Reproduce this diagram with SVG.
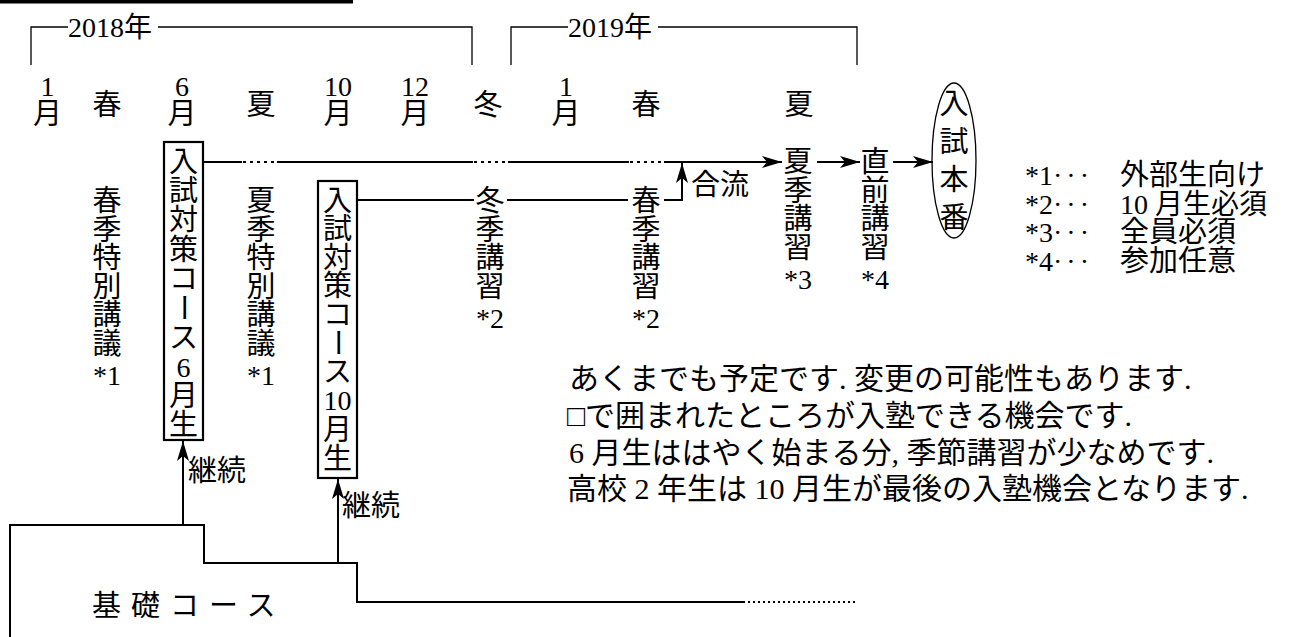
<svg xmlns="http://www.w3.org/2000/svg" width="1289" height="637" viewBox="0 0 1289 637">
<style>
.cj{font-family:"Noto Sans CJK JP",sans-serif;font-size:29px;fill:#000}
.sr{font-family:"Liberation Serif","Noto Sans CJK JP",serif;font-size:28px;fill:#000}
.mx{font-family:"Liberation Serif","Noto Sans CJK JP",serif;font-size:30px;fill:#000}
.c{text-anchor:middle}
.ln{fill:none;stroke:#000;stroke-width:2}
.br{fill:none;stroke:#000;stroke-width:1.3}
.dt{fill:none;stroke:#000;stroke-width:2;stroke-dasharray:3 4}
.box{fill:none;stroke:#000;stroke-width:2.2}
</style>
<defs>
<marker id="ah" viewBox="0 0 20 12" refX="20" refY="6" markerWidth="20" markerHeight="12" markerUnits="userSpaceOnUse" orient="auto">
<path d="M0,0 L20,6 L0,12 L5,6 Z" fill="#000"/>
</marker>
</defs>
<rect width="1289" height="637" fill="#fff"/>
<rect x="0" y="0" width="353" height="3.5" fill="#000"/>

<g id="timeline-header">
<path class="br" d="M31,65 V27 H68"/>
<text class="sr" x="68" y="37">2018年</text>
<path class="br" d="M158,27 H472 V65"/>
<path class="br" d="M511,65 V27 H568"/>
<text class="sr" x="568" y="37">2019年</text>
<path class="br" d="M658,27 H857 V65"/>
<text class="sr c" x="47.5" y="96">1</text><text class="cj c" x="47.5" y="123.5">月</text>
<text class="cj c" x="107" y="114.5">春</text>
<text class="sr c" x="182" y="96">6</text><text class="cj c" x="182" y="123.5">月</text>
<text class="cj c" x="261" y="114.5">夏</text>
<text class="sr c" x="338" y="96">10</text><text class="cj c" x="338" y="123.5">月</text>
<text class="sr c" x="415" y="96">12</text><text class="cj c" x="415" y="123.5">月</text>
<text class="cj c" x="488" y="114.5">冬</text>
<text class="sr c" x="566" y="96">1</text><text class="cj c" x="566" y="123.5">月</text>
<text class="cj c" x="646" y="114.5">春</text>
<text class="cj c" x="799" y="114.5">夏</text>
</g>

<g id="connectors">
<path class="ln" d="M203,162 H242 M277,162 H473 M508,162 H629 M664,162 H782" marker-end="url(#ah)"/>
<path class="dt" d="M243,162 H277 M474,162 H508 M630,162 H664"/>
<path class="ln" d="M357,200 H474 M507,200 H628 M664,200 H682 V163" marker-end="url(#ah)"/>
<path class="ln" d="M817,162 H860" marker-end="url(#ah)"/>
<path class="ln" d="M893,162 H933" marker-end="url(#ah)"/>
<path class="ln" d="M10,637 V525 H204 V563 H357 V602 H743"/>
<path class="ln" d="M743,602 H857" stroke-dasharray="2 3" stroke-width="1.6"/>
<path class="ln" d="M183,525 V441" marker-end="url(#ah)"/>
<path class="ln" d="M338,563 V479" marker-end="url(#ah)"/>
</g>

<g id="spring-special">
<text class="cj c" x="107" y="211">春</text>
<text class="cj c" x="107" y="239.5">季</text>
<text class="cj c" x="107" y="268">特</text>
<text class="cj c" x="107" y="296.5">別</text>
<text class="cj c" x="107" y="325">講</text>
<text class="cj c" x="107" y="353.5">議</text>
<text class="sr c" x="107" y="384.5">*1</text>
</g>

<g id="course-june">
<rect class="box" x="164" y="142" width="39" height="298"/>
<text class="cj c" x="183.5" y="171.5">入</text>
<text class="cj c" x="183.5" y="201">試</text>
<text class="cj c" x="183.5" y="230">対</text>
<text class="cj c" x="183.5" y="259.5">策</text>
<text class="cj c" x="183.5" y="288.5">コ</text>
<text class="cj c" x="183.5" y="318" transform="rotate(90 183.5 307.5)">ー</text>
<text class="cj c" x="183.5" y="347.5">ス</text>
<text class="sr c" x="183.5" y="377">6</text>
<text class="cj c" x="183.5" y="406">月</text>
<text class="cj c" x="183.5" y="435">生</text>
</g>

<g id="summer-special">
<text class="cj c" x="261" y="211">夏</text>
<text class="cj c" x="261" y="239.5">季</text>
<text class="cj c" x="261" y="268">特</text>
<text class="cj c" x="261" y="296.5">別</text>
<text class="cj c" x="261" y="325">講</text>
<text class="cj c" x="261" y="353.5">議</text>
<text class="sr c" x="261" y="384.5">*1</text>
</g>

<g id="course-october">
<rect class="box" x="318" y="181" width="39" height="297"/>
<text class="cj c" x="337.5" y="210.5">入</text>
<text class="cj c" x="337.5" y="239">試</text>
<text class="cj c" x="337.5" y="267.5">対</text>
<text class="cj c" x="337.5" y="296">策</text>
<text class="cj c" x="337.5" y="325">コ</text>
<text class="cj c" x="337.5" y="353.5" transform="rotate(90 337.5 342.5)">ー</text>
<text class="cj c" x="337.5" y="382">ス</text>
<text class="sr c" x="337.5" y="410">10</text>
<text class="cj c" x="337.5" y="440">月</text>
<text class="cj c" x="337.5" y="469">生</text>
</g>

<g id="winter-course">
<text class="cj c" x="490" y="211">冬</text>
<text class="cj c" x="490" y="239.5">季</text>
<text class="cj c" x="490" y="268">講</text>
<text class="cj c" x="490" y="296.5">習</text>
<text class="sr c" x="490" y="327.5">*2</text>
</g>

<g id="spring-course">
<text class="cj c" x="646" y="211">春</text>
<text class="cj c" x="646" y="239.5">季</text>
<text class="cj c" x="646" y="268">講</text>
<text class="cj c" x="646" y="296.5">習</text>
<text class="sr c" x="646" y="327.5">*2</text>
</g>

<g id="merge-label">
<text class="cj" x="691" y="194.5">合流</text>
</g>

<g id="summer-course">
<text class="cj c" x="798" y="172">夏</text>
<text class="cj c" x="798" y="200.5">季</text>
<text class="cj c" x="798" y="229">講</text>
<text class="cj c" x="798" y="257.5">習</text>
<text class="sr c" x="798" y="288.5">*3</text>
</g>

<g id="final-course">
<text class="cj c" x="875" y="172">直</text>
<text class="cj c" x="875" y="200.5">前</text>
<text class="cj c" x="875" y="229">講</text>
<text class="cj c" x="875" y="257.5">習</text>
<text class="sr c" x="875" y="288.5">*4</text>
</g>

<g id="exam">
<ellipse cx="954" cy="160.5" rx="22" ry="77.5" fill="none" stroke="#000" stroke-width="1.3"/>
<text class="cj c" x="954" y="113.5">入</text>
<text class="cj c" x="954" y="151.5">試</text>
<text class="cj c" x="954" y="189.5">本</text>
<text class="cj c" x="954" y="227.5">番</text>
</g>

<g id="continue-labels">
<text class="cj" x="188" y="480.5">継続</text>
<text class="cj" x="342" y="515.5">継続</text>
</g>

<g id="basic-course">
<text class="cj" x="92" y="616" letter-spacing="10">基礎コース</text>
</g>

<g id="legend">
<text class="sr" x="1025" y="185">*1<tspan letter-spacing="4">···</tspan><tspan class="cj" x="1120">外部生向け</tspan></text>
<text class="sr" x="1025" y="213.5">*2<tspan letter-spacing="4">···</tspan><tspan x="1120">10 月生必須</tspan></text>
<text class="sr" x="1025" y="242">*3<tspan letter-spacing="4">···</tspan><tspan class="cj" x="1120">全員必須</tspan></text>
<text class="sr" x="1025" y="270.5">*4<tspan letter-spacing="4">···</tspan><tspan class="cj" x="1120">参加任意</tspan></text>
</g>

<g id="notes">
<text class="mx" x="569" y="389">あくまでも予定です. 変更の可能性もあります.</text>
<text class="mx" x="567" y="426">□で囲まれたところが入塾できる機会です.</text>
<text class="mx" x="569" y="463">6 月生ははやく始まる分, 季節講習が少なめです.</text>
<text class="mx" x="567" y="499">高校 2 年生は 10 月生が最後の入塾機会となります.</text>
</g>
</svg>
